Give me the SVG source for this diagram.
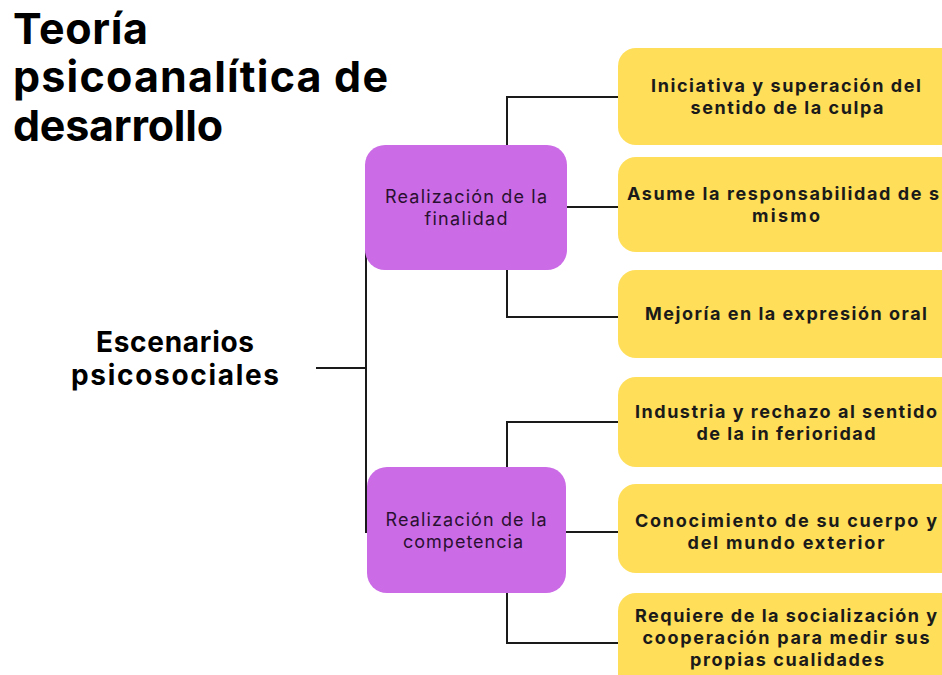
<svg xmlns="http://www.w3.org/2000/svg" width="942" height="675" viewBox="0 0 942 675">
<style>
.title{font-family:Inter,"Open Sans","Liberation Sans",sans-serif;font-weight:700;font-size:43px;fill:#000}
.root{font-family:Inter,"Open Sans","Liberation Sans",sans-serif;font-weight:700;font-size:28px;fill:#000;text-anchor:middle}
.mid{font-family:Inter,"Open Sans","Liberation Sans",sans-serif;font-weight:400;font-size:18px;fill:#2a1030;text-anchor:middle}
.leaf{font-family:Inter,"Open Sans","Liberation Sans",sans-serif;font-weight:700;font-size:18px;fill:#1a1a1a;text-anchor:middle}
.pbox{fill:#CB6CE6}
.ybox{fill:#FFDE59}
.conn{fill:none;stroke:#1a1a1a;stroke-width:2}
</style>
<rect width="942" height="675" fill="#fff"/>
<g id="title">
<text class="title" x="13" y="44" textLength="135" lengthAdjust="spacing">Teoría</text>
<text class="title" x="13" y="92" textLength="375" lengthAdjust="spacing">psicoanalítica de</text>
<text class="title" x="13" y="141" textLength="210" lengthAdjust="spacing">desarrollo</text>
</g>
<g id="connectors">
<path class="conn" d="M316 368 H366 M366 207 V533"/>
<path class="conn" d="M507 145 V97 H618 M567 207 H618 M507 270 V317 H618"/>
<path class="conn" d="M507 467 V422 H618 M566 532 H618 M507 593 V643 H618"/>
</g>
<g id="root">
<text class="root" x="175" y="352" textLength="158" lengthAdjust="spacing">Escenarios</text>
<text class="root" x="175" y="385" textLength="208" lengthAdjust="spacing">psicosociales</text>
</g>
<g id="finalidad">
<rect class="pbox" x="365" y="145" width="202" height="125" rx="20"/>
<text class="mid" x="466" y="203" textLength="162" lengthAdjust="spacing">Realización de la</text>
<text class="mid" x="466" y="225" textLength="83" lengthAdjust="spacing">finalidad</text>
</g>
<g id="competencia">
<rect class="pbox" x="367" y="467" width="199" height="126" rx="20"/>
<text class="mid" x="466" y="526" textLength="161" lengthAdjust="spacing">Realización de la</text>
<text class="mid" x="463" y="548" textLength="120" lengthAdjust="spacing">competencia</text>
</g>
<g id="leaf1">
<rect class="ybox" x="618" y="48" width="340" height="97" rx="18"/>
<text class="leaf" x="786" y="92" textLength="270" lengthAdjust="spacing">Iniciativa y superación del</text>
<text class="leaf" x="787" y="114" textLength="193" lengthAdjust="spacing">sentido de la culpa</text>
</g>
<g id="leaf2">
<rect class="ybox" x="618" y="157" width="340" height="95" rx="18"/>
<text class="leaf" x="627" y="200" style="text-anchor:start" textLength="312" lengthAdjust="spacing">Asume la responsabilidad de s</text>
<text class="leaf" x="786" y="222" textLength="68" lengthAdjust="spacing">mismo</text>
</g>
<g id="leaf3">
<rect class="ybox" x="618" y="270" width="340" height="88" rx="18"/>
<text class="leaf" x="786" y="320" textLength="282" lengthAdjust="spacing">Mejoría en la expresión oral</text>
</g>
<g id="leaf4">
<rect class="ybox" x="618" y="377" width="340" height="90" rx="18"/>
<text class="leaf" x="786" y="418" textLength="302" lengthAdjust="spacing">Industria y rechazo al sentido</text>
<text class="leaf" x="786" y="440" textLength="179" lengthAdjust="spacing">de la in ferioridad</text>
</g>
<g id="leaf5">
<rect class="ybox" x="618" y="484" width="340" height="89" rx="18"/>
<text class="leaf" x="786" y="527" textLength="302" lengthAdjust="spacing">Conocimiento de su cuerpo y</text>
<text class="leaf" x="786" y="549" textLength="197" lengthAdjust="spacing">del mundo exterior</text>
</g>
<g id="leaf6">
<rect class="ybox" x="618" y="593" width="340" height="100" rx="18"/>
<text class="leaf" x="786" y="622" textLength="302" lengthAdjust="spacing">Requiere de la socialización y</text>
<text class="leaf" x="786" y="644" textLength="287" lengthAdjust="spacing">cooperación para medir sus</text>
<text class="leaf" x="787" y="666" textLength="194" lengthAdjust="spacing">propias cualidades</text>
</g>
</svg>
